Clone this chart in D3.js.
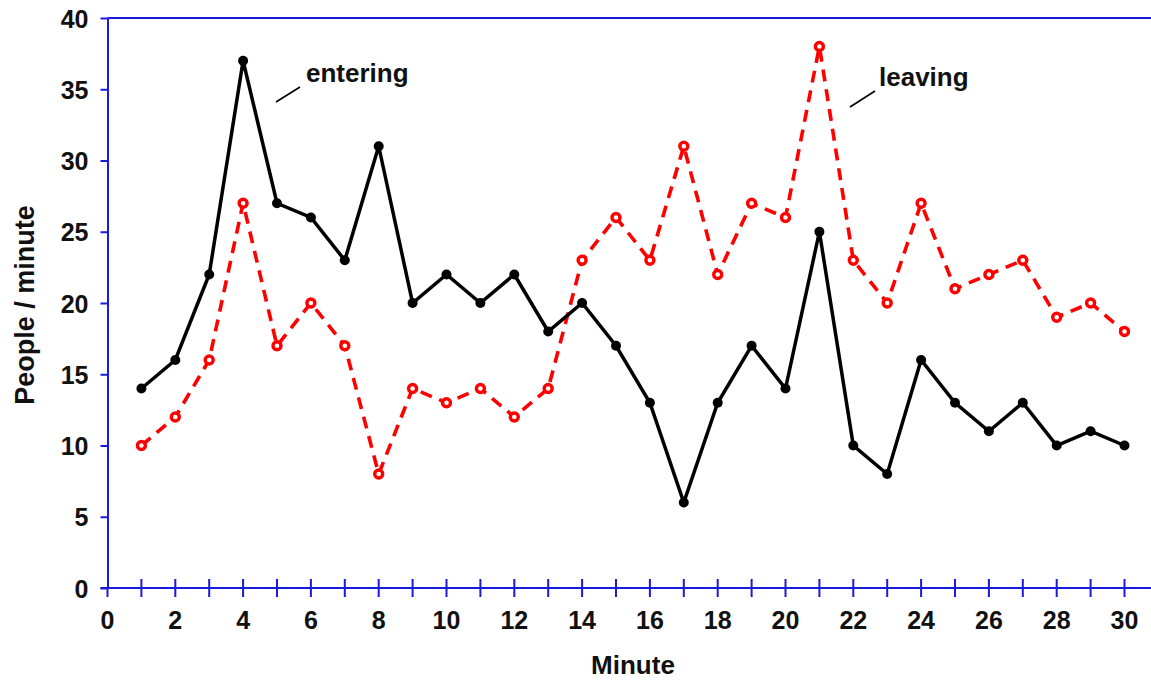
<!DOCTYPE html>
<html>
<head>
<meta charset="utf-8">
<script src="https://cdn.jsdelivr.net/npm/d3@7"></script>
<style>
body { margin: 0; background: #fff; }
text { font-family: "Liberation Sans", Arial, sans-serif; font-weight: bold; fill: #111; }
</style>
</head>
<body>
<svg width="1151" height="680"></svg>
<script>
var minutes = d3.range(1, 31);
var entering = [14, 16, 22, 37, 27, 26, 23, 31, 20, 22, 20, 22, 18, 20, 17, 13, 6, 13, 17, 14, 25, 10, 8, 16, 13, 11, 13, 10, 11, 10];
var leaving = [10, 12, 16, 27, 17, 20, 17, 8, 14, 13, 14, 12, 14, 23, 26, 23, 31, 22, 27, 26, 38, 23, 20, 27, 21, 22, 23, 19, 20, 18];
var xTicks = d3.range(0, 31, 2);
var yTicks = d3.range(0, 41, 5);

var svg = d3.select("svg");
var plotLeft = 107.5, plotTop = 18, plotBottom = 588, plotRight = 1124.5;

var x = d3.scaleLinear().domain([0, 30]).range([plotLeft, plotRight]);
var y = d3.scaleLinear().domain([0, 40]).range([plotBottom, plotTop]);
var blue = "#1a1adc";

// frame top line across to the edge
svg.append("line").attr("x1", plotLeft).attr("x2", 1151).attr("y1", plotTop).attr("y2", plotTop)
  .attr("stroke", blue).attr("stroke-width", 2);

// y axis
var yAxis = svg.append("g").attr("transform", "translate(" + plotLeft + ",0)")
  .call(d3.axisLeft(y).tickValues(yTicks).tickSize(7).tickPadding(12).tickSizeOuter(0));
yAxis.select(".domain").attr("stroke", blue).attr("stroke-width", 2);
yAxis.selectAll(".tick line").attr("stroke", blue).attr("stroke-width", 2);
yAxis.selectAll(".tick text").style("font-size", "25px").attr("dy", "0.36em").attr("fill", "#111");

// x axis: ticks every minute, labels every 2
var xAxis = svg.append("g").attr("transform", "translate(0," + plotBottom + ")");
xAxis.append("line").attr("x1", plotLeft - 7).attr("x2", 1151).attr("stroke", blue).attr("stroke-width", 2);
xAxis.selectAll(".mtick").data(minutes).enter().append("line")
  .attr("x1", function(d) { return x(d); }).attr("x2", function(d) { return x(d); })
  .attr("y1", -9).attr("y2", 9).attr("stroke", blue).attr("stroke-width", 2);
xAxis.append("line").attr("x1", x(0)).attr("x2", x(0)).attr("y1", 0).attr("y2", 9)
  .attr("stroke", blue).attr("stroke-width", 2);
xAxis.selectAll(".xl").data(xTicks).enter().append("text")
  .attr("x", function(d) { return x(d); }).attr("y", 41)
  .attr("text-anchor", "middle").style("font-size", "25px")
  .text(function(d) { return d; });

// axis titles
svg.append("text").attr("x", 633).attr("y", 674)
  .attr("text-anchor", "middle").style("font-size", "26px").text("Minute");
svg.append("text").attr("transform", "translate(34,305) rotate(-90)")
  .attr("text-anchor", "middle").style("font-size", "27px").text("People / minute");

var line = d3.line().x(function(d, i) { return x(minutes[i]); }).y(function(d) { return y(d); });

// leaving (red dashed, open circles)
svg.append("path").datum(leaving).attr("d", line).attr("fill", "none")
  .attr("stroke", "#ff0000").attr("stroke-width", 3.6).attr("stroke-dasharray", "12,8");
svg.selectAll(".lv").data(leaving).enter().append("circle")
  .attr("cx", function(d, i) { return x(minutes[i]); }).attr("cy", function(d) { return y(d); })
  .attr("r", 4).attr("fill", "#fff").attr("stroke", "#ff0000").attr("stroke-width", 3.4);

// entering (black solid, filled dots)
svg.append("path").datum(entering).attr("d", line).attr("fill", "none")
  .attr("stroke", "#000").attr("stroke-width", 3.5);
svg.selectAll(".en").data(entering).enter().append("circle")
  .attr("cx", function(d, i) { return x(minutes[i]); }).attr("cy", function(d) { return y(d); })
  .attr("r", 5).attr("fill", "#000");

// labels with leader lines
svg.append("line").attr("x1", 276).attr("y1", 102).attr("x2", 300).attr("y2", 87)
  .attr("stroke", "#000").attr("stroke-width", 1.6);
svg.append("text").attr("x", 306).attr("y", 82).style("font-size", "26px").text("entering");
svg.append("line").attr("x1", 850).attr("y1", 107).attr("x2", 875).attr("y2", 91)
  .attr("stroke", "#000").attr("stroke-width", 1.6);
svg.append("text").attr("x", 879).attr("y", 86).style("font-size", "26px").text("leaving");
</script>
</body>
</html>
